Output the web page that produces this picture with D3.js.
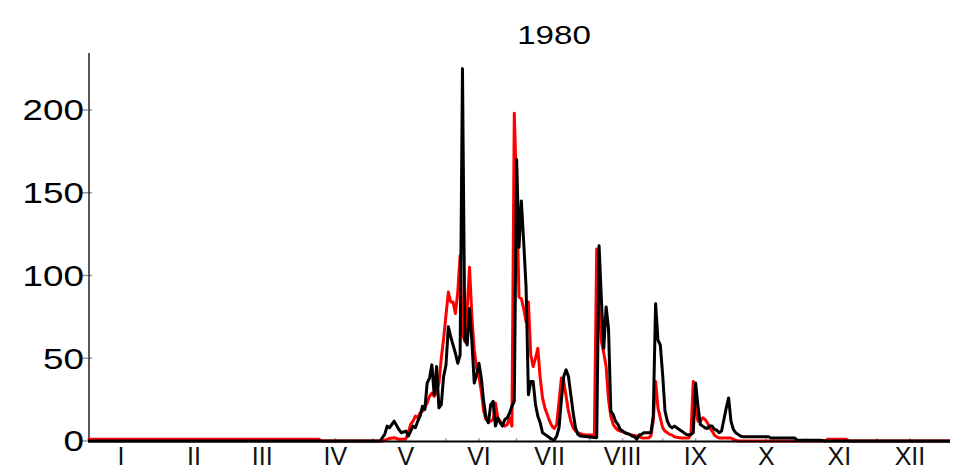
<!DOCTYPE html>
<html lang="en">
<head>
<meta charset="utf-8">
<script src="https://d3js.org/d3.v7.min.js"></script>
<style>
  body { margin: 0; background: #fff; }
  text { font-family: "Liberation Sans", Arial, sans-serif; }
</style>
</head>
<body>
<svg id="chart" width="962" height="474"></svg>

<script>
const title = "1980";
const months = ["I", "II", "III", "IV", "V", "VI", "VII", "VIII", "IX", "X", "XI", "XII"];
const monthLengths = [31, 29, 31, 30, 31, 30, 31, 31, 30, 31, 30, 31];
const yTicks = [0, 50, 100, 150, 200];

// [day of year, value]
const redSeries = [
  [0,1],[98,1],[99,0],[125,0],[126,0.5],[127,1],[128,1.5],[130,2],[131,1.5],[132,1],[134,1],
  [135,1.5],[136,5],[137,10],[138,12],[139,15],[140,14],[141,17],[142,18],[143,20],[144,23],
  [145,27],[146,29],[147,27],[148,30],[149,35],[150,50],[151,62],[152,76],[153,90],[154,84],
  [155,84],[156,77],[157,90],[158,112],[159,65],[160,60],[161,80],[162,105],[163,75],[164,55],
  [165,44],[166,39],[167,30],[168,18],[169,13],[170,12],[171,12],[172,13],[173,23],[174,14],
  [175,12],[176,10],[177,9],[178,10],[179,14],[180,9],[181,198],[182,150],[183,87],[184,86],
  [185,80],[186,72],[187,84],[188,52],[189,45],[190,50],[191,56],[192,38],[193,26],[194,20],
  [195,16],[196,12],[197,9],[198,7.6],[199,10],[200,24],[201,38],[202,36],[203,27],[204,18],
  [205,12],[206,8],[207,6],[208,5],[209,4.5],[210,4],[212,3.6],[215,3.6],[216,116],[217,80],
  [218,60],[219,53],[220,45],[221,25],[222,15],[223,10],[224,8],[225,6.6],[226,6],[227,5.5],
  [228,5],[229,4.5],[230,4],[231,3.6],[233,3],[234,2.5],[235,2],[236,1.8],[238,2],[239,3],
  [240,12],[241,36],[242,20],[243,14],[244,8],[245,6],[246,5],[247,4],[248,3.5],[249,2.6],
  [250,2.2],[251,2],[252,1.8],[255,1.8],[256,4],[257,36],[258,19],[259,12],[260,12],[261,14],
  [262,13],[263,11],[264,8],[265,6],[266,3.5],[267,2.5],[268,1.8],[273,1.8],[274,1],[275,0.5],
  [276,0],[313,0],[314,1],[322,1],[323,0],[366,0]
];

const blackSeries = [
  [0,0],[124,0],[126,4],[127,9],[128,8],[130,12],[132,7],[133,5],[135,6],[136,3],[137,6],
  [138,9],[139,8],[140,12],[141,15],[142,21],[143,19],[144,35],[145,38],[146,46],[147,28],
  [148,45],[149,20],[150,22],[151,39],[152,46],[153,69],[154,63],[155,58],[156,53],[157,47],
  [158,52],[159,225],[160,62],[161,58],[162,80],[163,60],[164,35],[165,40],[166,47],[167,38],
  [168,24],[169,14],[170,11],[171,22],[172,24],[173,9],[174,14],[175,11],[176,9],[177,13],
  [178,14],[179,17],[180,21],[181,24],[182,170],[183,117],[184,145],[185,120],[186,93],
  [187,28],[188,36],[189,36],[190,22],[191,15],[192,11],[193,5],[194,4],[195,3],[196,2],
  [197,1],[198,0.5],[199,3],[200,8],[201,25],[202,39],[203,43],[204,39],[205,28],[206,17],
  [207,8],[208,4],[209,3],[212,2.6],[216,2],[217,118],[218,85],[219,56],[220,81],[221,68],
  [222,18],[223,16],[224,12],[225,10],[226,7],[227,6],[228,5],[230,4],[231,3],[232,2.6],
  [233,1],[234,3.6],[235,4],[236,5],[239,5],[240,15],[241,83],[242,61],[243,58],[244,40],
  [245,18],[246,12],[247,9],[248,8],[249,9],[250,8],[251,7],[252,6],[253,5],[254,4],
  [255,3.6],[256,4],[257,5],[258,35],[259,21],[260,10],[261,9],[262,8],[263,7.5],[264,9],
  [265,9],[266,7],[267,6.5],[268,5],[269,6],[270,13],[271,20],[272,26],[273,12],[274,7],
  [275,5],[276,4],[277,3],[278,2.6],[289,2.6],[290,1.8],[300,1.8],[301,0.6],[311,0.5],
  [313,0],[366,0]
];

const svg = d3.select("#chart");

const x = d3.scaleLinear().domain([0, 366]).range([88, 950]);
const y = d3.scaleLinear().domain([0, 200]).range([441, 110]);
const yTop = 53;

// month starts and label positions
const monthStarts = [];
let acc = 0;
for (const len of monthLengths) { monthStarts.push(acc); acc += len; }
const monthMids = monthStarts.map(s => s + 14);

// grey ticks on the x axis
svg.append("g")
  .selectAll("line")
  .data(monthStarts.concat(monthMids))
  .join("line")
    .attr("x1", d => x(d)).attr("x2", d => x(d))
    .attr("y1", y(0) - 3).attr("y2", y(0))
    .attr("stroke", "#aaa")
    .attr("stroke-width", 1.5);

// y ticks
svg.append("g")
  .selectAll("line")
  .data(yTicks)
  .join("line")
    .attr("x1", 80).attr("x2", 92)
    .attr("y1", d => y(d)).attr("y2", d => y(d))
    .attr("stroke", "#999")
    .attr("stroke-width", 1.5);

svg.append("g")
  .selectAll("text")
  .data(yTicks)
  .join("text")
    .attr("transform", d => `translate(84,${y(d)}) scale(1.27,1)`)
    .attr("text-anchor", "end")
    .attr("dy", "0.36em")
    .attr("font-size", 29)
    .attr("fill", "#000")
    .text(d => d);

// axes lines
svg.append("line")
  .attr("x1", x(0) + 1).attr("x2", x(0) + 1)
  .attr("y1", yTop).attr("y2", y(0))
  .attr("stroke", "#222").attr("stroke-width", 1.5);

const line = d3.line()
  .x(d => x(d[0]))
  .y(d => y(d[1]));

svg.append("path")
  .datum(redSeries)
  .attr("d", line)
  .attr("fill", "none")
  .attr("stroke", "#ff0000")
  .attr("stroke-width", 3)
  .attr("stroke-linejoin", "round");

svg.append("path")
  .datum(blackSeries)
  .attr("d", line)
  .attr("fill", "none")
  .attr("stroke", "#000")
  .attr("stroke-width", 3)
  .attr("stroke-linejoin", "round");

svg.append("line")
  .attr("x1", x(0)).attr("x2", x(366))
  .attr("y1", y(0) + 0.5).attr("y2", y(0) + 0.5)
  .attr("stroke", "#000").attr("stroke-width", 2);

// month labels
svg.append("g")
  .selectAll("text")
  .data(months)
  .join("text")
    .attr("x", (d, i) => x(monthMids[i]))
    .attr("y", 465)
    .attr("text-anchor", "middle")
    .attr("font-size", 25)
    .attr("fill", "#111")
    .text(d => d);

svg.append("text")
  .attr("transform", "translate(554,44) scale(1.25,1)")
  .attr("text-anchor", "middle")
  .attr("font-size", 26.5)
  .attr("fill", "#000")
  .text(title);
</script>
</body>
</html>
